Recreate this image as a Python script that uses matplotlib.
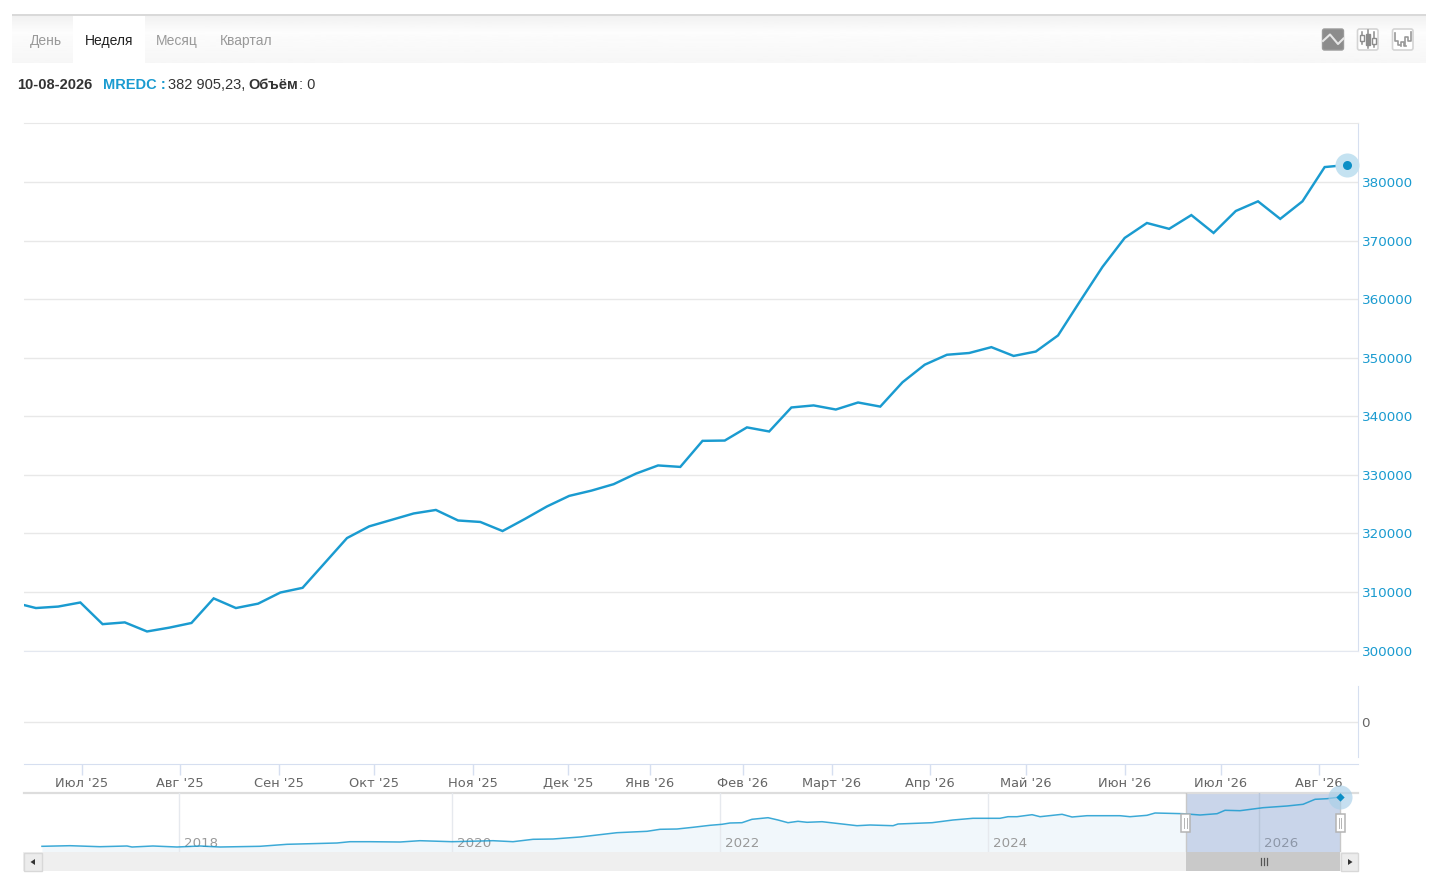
import matplotlib
matplotlib.use('Agg')
import matplotlib.pyplot as plt
import numpy as np
from matplotlib.patches import Rectangle, FancyBboxPatch

W, H = 1439, 888

# weekly index values, the first point sits just left of the plot edge
week_values = [
    308200, 307250, 307500, 308200, 304500, 304800, 303250, 303900, 304700, 308900,
    307250, 308000, 309900, 310700, 314950, 319200, 321200, 322300, 323400, 324000,
    322200, 321950, 320400, 322450, 324600, 326400, 327300, 328400, 330200, 331600,
    331350, 335800, 335850, 338100, 337400, 341500, 341850, 341150, 342350, 341650,
    345800, 348800, 350500, 350800, 351800, 350300, 351050, 353800, 359700, 365500,
    370450, 373000, 372000, 374350, 371300, 375050, 376700, 373700, 376700, 382550,
    382905,
]
month_pos = [3.07, 7.48, 11.94, 16.2, 20.67, 24.95, 28.64, 32.82, 36.83, 41.24, 45.56, 50.01, 54.33, 58.74]
month_labels = ["Июл '25", "Авг '25", "Сен '25", "Окт '25", "Ноя '25", "Дек '25", "Янв '26", "Фев '26",
                "Март '26", "Апр '26", "Май '26", "Июн '26", "Июл '26", "Авг '26"]
price_ticks = [300000, 310000, 320000, 330000, 340000, 350000, 360000, 370000, 380000]

# navigator: whole history
nav_years = [
    2016.985, 2017.193, 2017.415, 2017.615, 2017.652, 2017.807, 2017.985, 2018.156, 2018.304, 2018.6,
    2018.8, 2019.17, 2019.267, 2019.415, 2019.637, 2019.785, 2020.022, 2020.326, 2020.474, 2020.622,
    2020.77, 2020.97, 2021.244, 2021.467, 2021.563, 2021.689, 2021.807, 2021.933, 2022.022, 2022.081,
    2022.17, 2022.244, 2022.363, 2022.437, 2022.511, 2022.585, 2022.652, 2022.763, 2023.022, 2023.119,
    2023.289, 2023.326, 2023.578, 2023.733, 2023.881, 2024.081, 2024.141, 2024.207, 2024.319, 2024.378,
    2024.541, 2024.615, 2024.726, 2024.97, 2025.044, 2025.17, 2025.23, 2025.437, 2025.563, 2025.689,
    2025.748, 2025.859, 2026.03, 2026.207, 2026.326, 2026.415, 2026.504, 2026.6,
]
nav_values = [
    156100, 158900, 154300, 157500, 152900, 157500, 152900, 157500, 152900, 156100,
    165300, 171300, 177300, 177300, 175900, 181900, 177300, 181900, 177300, 188300,
    189700, 198900, 218700, 225100, 234300, 235700, 243500, 252700, 257300, 263300,
    264700, 280300, 287700, 277100, 264700, 271100, 266500, 269300, 250900, 254100,
    250900, 258700, 264700, 277100, 284900, 284900, 292300, 292300, 301500, 292300,
    303300, 290900, 296900, 296900, 292300, 298700, 309300, 306100, 300100, 306100,
    321700, 319900, 333700, 341500, 349300, 372300, 375100, 382905,
]
nav_tick_pos = [2018, 2020.02, 2022.01, 2023.99, 2026]
nav_tick_labels = ['2018', '2020', '2022', '2024', '2026']
sel_start, sel_end = 2025.459, 2026.6

BLUE = '#1a9bd0'
GRID = '#e8e8e8'
AXIS = '#d6dff0'


def px_axes(x0, y0, x1, y1, **kw):
    # axes from pixel box, y counted from the top of the image
    return fig.add_axes([x0 / W, 1 - y1 / H, (x1 - x0) / W, (y1 - y0) / H], **kw)


fig = plt.figure(figsize=(W / 100, H / 100), dpi=100, facecolor='white')
plt.rcParams['font.family'] = ['DejaVu Sans']

# page background, toolbar and header
bg = px_axes(0, 0, W, H, zorder=0)
bg.set_xlim(0, W)
bg.set_ylim(H, 0)
bg.axis('off')
shade = np.interp(np.arange(48), [0, 16, 47], [0.945, 0.99, 0.965]).reshape(-1, 1)
bg.imshow(shade, extent=(12, 1426, 63, 16), cmap='gray', vmin=0, vmax=1, aspect='auto')
bg.set_xlim(0, W)
bg.set_ylim(H, 0)
bg.add_patch(Rectangle((12, 14), 1414, 2, color='#d9d9d9', lw=0))
bg.add_patch(Rectangle((73, 16), 72, 47, color='white', lw=0))
for label, cx, col in [('День', 45.5, '#999999'), ('Неделя', 109, '#222222'),
                       ('Месяц', 177, '#999999'), ('Квартал', 246.5, '#999999')]:
    bg.text(cx, 40.5, label, ha='center', va='center', color=col, fontsize=10, family='Liberation Sans')
for x, s, col, wt in [(17.5, '10-08-2026', '#333333', 'bold'), (103, 'MREDC :', BLUE, 'bold'),
                      (168, '382 905,23,', '#333333', 'normal'), (248, 'Объём', '#333333', 'bold'),
                      (299, ': 0', '#333333', 'normal')]:
    bg.text(x, 85, s, ha='left', va='center', color=col, fontsize=10.5, fontweight=wt, family='Liberation Sans')

# chart type icons
bg.add_patch(FancyBboxPatch((1322.5, 29), 21, 21, boxstyle='round,pad=0,rounding_size=2', fc='#8c8c8c', ec='#9a9a9a', lw=1))
bg.plot([1323, 1330, 1338, 1343.5], [41, 34.5, 44, 38.5], color='#e6e6e6', lw=1.5)
for x0 in (1357.5, 1392.5):
    bg.add_patch(FancyBboxPatch((x0, 29), 20.5, 21, boxstyle='round,pad=0,rounding_size=2', fc='white', ec='#d4d4d4', lw=1.2))
for cx, y0, y1, t, b in [(1362, 32, 44, 35, 41), (1367.5, 30.5, 48, 34, 45), (1373.5, 32, 47, 38, 44)]:
    bg.plot([cx, cx], [y0, y1], color='#8c8c8c', lw=1.1)
    bg.add_patch(Rectangle((cx - 2, t), 4, b - t, fc='#8c8c8c' if cx == 1367.5 else 'white', ec='#8c8c8c', lw=1, zorder=3))
bg.plot([1395, 1395, 1398, 1398, 1400], [33, 41, 41, 45, 45], color='#999999', lw=1.2)
bg.plot([1401, 1401, 1404, 1404, 1406], [46, 42, 42, 46, 46], color='#999999', lw=1.2)
bg.plot([1405, 1405, 1408, 1408, 1410.5, 1410.5], [45, 37, 37, 41, 41, 32], color='#999999', lw=1.2)

# main price panel
ax = px_axes(24, 123, 1358, 650.5, zorder=2)
ax.plot(range(len(week_values)), week_values, color=BLUE, lw=1.75, solid_joinstyle='miter', zorder=3)
ax.scatter(len(week_values) - 1, week_values[-1], s=300, color='#c4e2f1', lw=0, clip_on=False, zorder=4)
ax.scatter(len(week_values) - 1, week_values[-1], s=42, color='#0c8fc6', lw=0, clip_on=False, zorder=5)
ax.set_xlim(0.4635, 60.5)
ax.set_ylim(300000, 390075)
ax.set_xticks([])
ax.yaxis.tick_right()
ax.set_yticks(price_ticks)
ax.tick_params(axis='y', length=0, pad=2.5, labelsize=9.7, labelcolor=BLUE)
ax.grid(axis='y', color=GRID, lw=1)
ax.set_axisbelow(True)
ax.spines['left'].set_visible(False)
ax.spines['bottom'].set_color('#e4e8f0')
ax.spines['top'].set_color(GRID)
ax.spines['right'].set_color(AXIS)

# empty volume panel and the month axis
vol = px_axes(24, 686, 1358, 764, zorder=2)
vol.set_xlim(ax.get_xlim())
vol.set_ylim(-1.167, 1)
vol.yaxis.tick_right()
vol.set_yticks([0])
vol.tick_params(axis='y', length=0, pad=2.5, labelsize=9.7, labelcolor='#666666')
vol.grid(axis='y', color=GRID, lw=1)
vol.set_xticks(month_pos)
vol.set_xticklabels(month_labels)
vol.tick_params(axis='x', length=8, width=1, color=AXIS, pad=1, labelsize=9.4, labelcolor='#666666')
for side in ('left', 'top'):
    vol.spines[side].set_visible(False)
vol.spines['bottom'].set_color(AXIS)
vol.spines['right'].set_color(AXIS)
vol.spines['right'].set_bounds(-0.97, 1)

# navigator
nav = px_axes(24, 793, 1358, 852, zorder=3)
nav.set_xlim(2016.852, 2026.733)
nav.set_ylim(129900, 401300)
nav.fill_between(nav_years, nav_values, 129900, color='#f1f7fb', lw=0, zorder=1)
nav.axvspan(sel_start, sel_end, color='#c9d5ea', lw=0, zorder=2)
for pos, label in zip(nav_tick_pos, nav_tick_labels):
    selected = pos > sel_start
    nav.axvline(pos, color='#b9c6da' if selected else '#e6e9ee', lw=1, zorder=3)
    nav.annotate(label, (pos, 0.152), xycoords=('data', 'axes fraction'), xytext=(3.5, 0),
                 textcoords='offset points', ha='left', va='center',
                 color='#8d97a8' if selected else '#999999', fontsize=9.6, zorder=4)
nav.axvline(sel_start, color='#c8c8c8', lw=1, zorder=5)
nav.axvline(sel_end, color='#c8c8c8', lw=1, zorder=5)
nav.plot(nav_years, nav_values, color=BLUE, lw=1.1, alpha=0.85, zorder=6)
nav.scatter(nav_years[-1], nav_values[-1], s=300, color='#a8cfe8', alpha=0.65, lw=0, clip_on=False, zorder=7)
nav.scatter(nav_years[-1], nav_values[-1], s=18, marker='D', color='#0c8fc6', lw=0, clip_on=False, zorder=8)
nav.set_xticks([])
nav.set_yticks([])
for side in ('left', 'right', 'bottom'):
    nav.spines[side].set_visible(False)
nav.spines['top'].set_color('#dddddd')
nav.spines['top'].set_linewidth(1.6)

# scrollbar and selection handles on top of everything
top = px_axes(0, 0, W, H, zorder=4)
top.set_xlim(0, W)
top.set_ylim(H, 0)
top.axis('off')
top.patch.set_alpha(0)
top.add_patch(Rectangle((23, 852), 1335, 19, color='#efefef', lw=0))
top.add_patch(Rectangle((1186, 852), 154, 19, color='#c9c9c9', lw=0))
top.add_patch(Rectangle((23.5, 852.5), 18, 18, fc='#ececec', ec='#d8d8d8', lw=1))
top.add_patch(Rectangle((1340.5, 852.5), 17.5, 18, fc='#ececec', ec='#d8d8d8', lw=1))
top.fill([35, 30.5, 35], [859, 862, 865], color='#333333', lw=0)
top.fill([1348, 1352.5, 1348], [859, 862, 865], color='#333333', lw=0)
for x in (1260.5, 1263.5, 1266.5):
    top.plot([x, x], [858, 865], color='#555555', lw=0.9)
for x in (1185.5, 1340):
    top.add_patch(Rectangle((x - 4.5, 814), 9, 17.5, fc='white', ec='#b4b4b4', lw=1.1))
    top.plot([x - 1.2, x - 1.2], [818, 828], color='#b4b4b4', lw=0.7)
    top.plot([x + 1.2, x + 1.2], [818, 828], color='#b4b4b4', lw=0.7)

fig.savefig('out.png', dpi=100)
